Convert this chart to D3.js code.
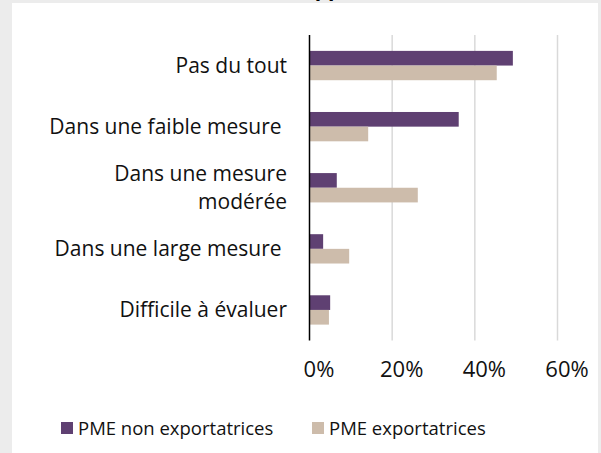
<!DOCTYPE html>
<html>
<head>
<meta charset="utf-8">
<script src="https://cdn.jsdelivr.net/npm/d3@7"></script>
<style>
  body { margin: 0; background: #ececec; }
  svg { display: block; font-family: "Open Sans", "Noto Sans", sans-serif; }
</style>
</head>
<body>
<svg id="chart"></svg>
<script>
// chart data
const categories = ["Pas du tout", "Dans une faible mesure ", "Dans une mesure modérée", "Dans une large mesure ", "Difficile à évaluer"];
const categoryLines = [["Pas du tout"], ["Dans une faible mesure "], ["Dans une mesure", "modérée"], ["Dans une large mesure "], ["Difficile à évaluer"]];
const seriesNames = ["PME non exportatrices", "PME exportatrices"];
const nonExport = [0.492, 0.361, 0.066, 0.033, 0.050];
const export_ = [0.453, 0.142, 0.262, 0.096, 0.047];
const xTicks = [0, 0.2, 0.4, 0.6];
const colors = ["#5f4072", "#cdbcab"];

const W = 601, H = 453;
const svg = d3.select("#chart").attr("width", W).attr("height", H);

svg.append("rect").attr("width", W).attr("height", H).attr("fill", "#ececec");
svg.append("rect").attr("x", 12).attr("y", 3).attr("width", 586).attr("height", H - 3).attr("fill", "#fff");

// clipped title remains at the top edge
svg.append("text").attr("x", 328).attr("y", -4).attr("text-anchor", "middle")
    .attr("font-size", 21).attr("font-weight", "bold").attr("fill", "#000").text("pp");

const plotTop = 35, plotBottom = 340.5;
const x = d3.scaleLinear().domain([0, 0.6]).range([309.5, 557.5]);
const y = d3.scaleBand().domain(categories).range([plotTop, plotBottom]).paddingInner(0.52).paddingOuter(0.26);
const ySub = d3.scaleBand().domain(seriesNames).range([0, y.bandwidth()]);

// gridlines
svg.append("g").selectAll("line").data(xTicks.slice(1)).join("line")
    .attr("x1", d => x(d)).attr("x2", d => x(d))
    .attr("y1", plotTop).attr("y2", plotBottom)
    .attr("stroke", "#d9d9d9").attr("stroke-width", 1.5);

// bars
const rows = categories.map((c, i) => ({ cat: c, vals: [nonExport[i], export_[i]] }));
const groups = svg.append("g").selectAll("g").data(rows).join("g")
    .attr("transform", d => `translate(0,${y(d.cat)})`);
groups.selectAll("rect").data(d => d.vals.map((v, j) => ({ v, s: seriesNames[j], j }))).join("rect")
    .attr("x", x(0))
    .attr("y", d => ySub(d.s))
    .attr("width", d => x(d.v) - x(0))
    .attr("height", ySub.bandwidth())
    .attr("fill", d => colors[d.j]);

// vertical axis line
svg.append("line").attr("x1", x(0)).attr("x2", x(0)).attr("y1", plotTop).attr("y2", plotBottom)
    .attr("stroke", "#000").attr("stroke-width", 1.5);

// category labels
const lh = 28;
svg.append("g").selectAll("text").data(categories).join("text")
    .attr("text-anchor", "end")
    .attr("font-size", 21).attr("fill", "#111")
    .attr("xml:space", "preserve")
    .each(function (d, i) {
        const lines = categoryLines[i];
        const cy = y(d) + y.bandwidth() / 2;
        const y0 = cy - (lines.length - 1) * lh / 2 + 7;
        d3.select(this).selectAll("tspan").data(lines).join("tspan")
            .attr("x", 287).attr("y", (l, k) => y0 + k * lh).text(l => l);
    });

// x tick labels (sit a little right of their gridlines, as in the source)
svg.append("g").selectAll("text").data(xTicks).join("text")
    .attr("x", d => x(d) + 9.5).attr("y", 377)
    .attr("text-anchor", "middle").attr("font-size", 22).attr("fill", "#111")
    .text(d => d3.format(".0%")(d));

// legend
const legendX = [61, 312];
const leg = svg.append("g").selectAll("g").data(seriesNames).join("g")
    .attr("transform", (d, i) => `translate(${legendX[i]},422)`);
leg.append("rect").attr("width", 12).attr("height", 12).attr("fill", (d, i) => colors[i]);
leg.append("text").attr("x", 17).attr("y", 13).attr("font-size", 18.5).attr("fill", "#111").text(d => d);
</script>
</body>
</html>
